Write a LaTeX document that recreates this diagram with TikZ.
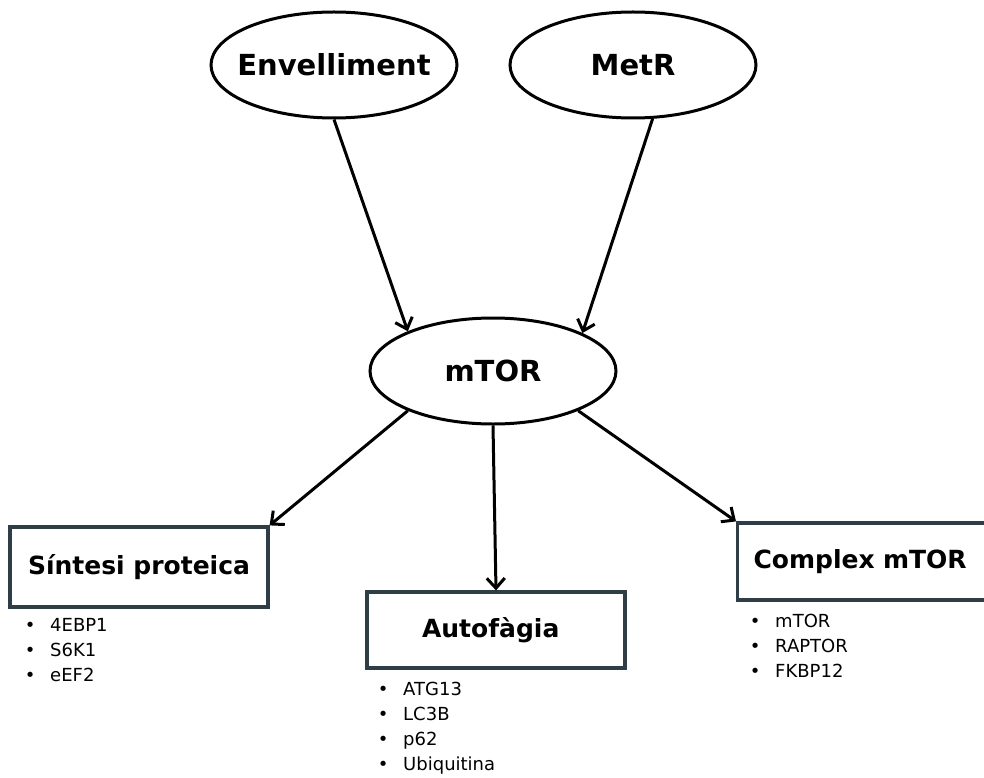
\documentclass[tikz,border=0pt]{standalone}
\usepackage{fontspec}
\setmainfont{DejaVu Sans}
\usetikzlibrary{shapes.geometric,arrows.meta}
\definecolor{boxgray}{HTML}{2F3E46}
\begin{document}
\begin{tikzpicture}[x=1pt,y=-1pt,
  oval/.style={ellipse, draw=black, line width=3pt, minimum width=246pt, minimum height=106pt, inner xsep=-14pt, inner ysep=0pt, font=\fontsize{29}{34}\selectfont\bfseries},
  box/.style={rectangle, draw=boxgray, line width=3.2pt, inner sep=0pt, font=\fontsize{25}{30}\selectfont\bfseries},
  conn/.style={line width=3pt, -{Straight Barb[length=10pt,width=18pt]}},
  list/.style={anchor=base west, inner sep=0pt, font=\fontsize{18}{25}\selectfont}
]
\clip (0,0) rectangle (984,778);
\fill[white] (0,0) rectangle (984,778);

\node[oval] (env) at (334,65) {Envelliment};
\node[oval] (metr) at (633,65) {MetR};
\node[oval] (mtor) at (493,371) {mTOR};

\node[box, minimum width=258pt, minimum height=80pt] (sint) at (139,567) {Síntesi proteica};
\node[box, minimum height=76pt, text width=148pt, inner xsep=55pt, align=left] (auto) at (496,630) {Autofàgia};
\node[box, minimum height=77pt, text width=238pt, inner xsep=16pt, align=left, anchor=west] (comp) at (736,561.5) {Complex mTOR};

\node[list] (sintlist) at (24.7,631) {\begin{tabular}[t]{@{}l@{\hspace{14.7pt}}l@{}}•&4EBP1\\•&S6K1\\•&eEF2\end{tabular}};
\node[list] (autolist) at (377.7,695) {\begin{tabular}[t]{@{}l@{\hspace{14.7pt}}l@{}}•&ATG13\\•&LC3B\\•&p62\\•&Ubiquitina\end{tabular}};
\node[list] (complist) at (749.7,627) {\begin{tabular}[t]{@{}l@{\hspace{14.7pt}}l@{}}•&mTOR\\•&RAPTOR\\•&FKBP12\end{tabular}};

\draw[conn] (env.south) -- (mtor.155);
\draw[conn] (metr.290) -- (mtor.23);
\draw[conn] (mtor.205) -- (sint.north east);
\draw[conn] (mtor.south) -- (auto.north);
\draw[conn] (mtor.335) -- (comp.north west);
\end{tikzpicture}
\end{document}
